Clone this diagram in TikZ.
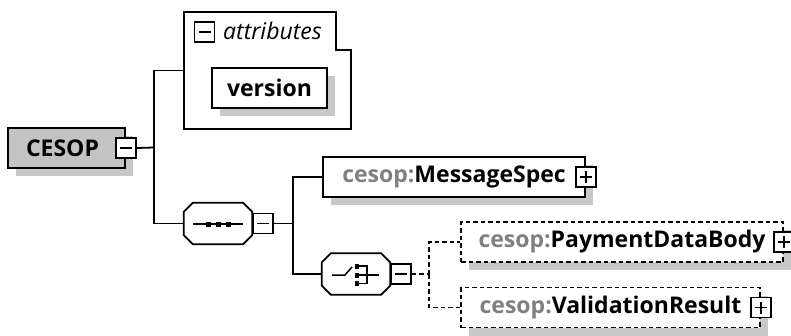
\documentclass[tikz,border=0pt]{standalone}
\usepackage{fontspec}
\setmainfont{Open Sans}
\usetikzlibrary{shadows}

\definecolor{boxgrey}{RGB}{195,195,195}
\definecolor{shadowgrey}{RGB}{200,200,200}
\definecolor{prefixgrey}{RGB}{128,128,128}

\tikzset{
  every picture/.append style={x=1pt,y=-1pt},
  shade/.style={general shadow={fill=shadowgrey,shadow xshift=8pt,shadow yshift=-8pt}},
  elem/.style={draw,line width=1.8pt,fill=white,minimum height=40pt,inner sep=0pt,
    font=\fontsize{23}{27}\selectfont\bfseries,shade},
  optelem/.style={elem,line width=1.5pt,dash pattern=on 4.5pt off 3pt},
  octo/.style={minimum width=68pt,minimum height=41pt,inner sep=0pt},
  toggle/.style={draw,line width=1.5pt,fill=white,minimum size=20pt,inner sep=0pt},
  minusbox/.style={toggle,path picture={
    \draw[line width=1.5pt] ([xshift=4pt]path picture bounding box.west)
      -- ([xshift=-4pt]path picture bounding box.east);}},
  plusbox/.style={toggle,path picture={
    \draw[line width=1.5pt] ([xshift=4pt]path picture bounding box.west)
      -- ([xshift=-4pt]path picture bounding box.east);
    \draw[line width=1.5pt] ([yshift=-4pt]path picture bounding box.north)
      -- ([yshift=4pt]path picture bounding box.south);}},
  link/.style={line width=1.8pt},
  optlink/.style={line width=1.5pt,dash pattern=on 4.5pt off 3pt}
}

\newcommand{\pfx}[1]{{\color{prefixgrey}#1:}}
\newcommand{\octpath}[1]{([xshift=9pt]#1.north west) -- ([xshift=-9pt]#1.north east)
  -- ([yshift=-9pt]#1.north east) -- ([yshift=9pt]#1.south east)
  -- ([xshift=-9pt]#1.south east) -- ([xshift=9pt]#1.south west)
  -- ([yshift=9pt]#1.south west) -- ([yshift=-9pt]#1.north west) -- cycle}
\newcommand{\octagon}[1]{%
  \fill[shadowgrey,shift={(8,8)}] \octpath{#1};
  \draw[fill=white,line width=1.8pt] \octpath{#1};}

\begin{document}
\begin{tikzpicture}
  \useasboundingbox (0,0) rectangle (791,335);

  \node[elem,fill=boxgrey,minimum width=117pt] (cesop) at (66.5,148) {\hspace*{-8pt}CESOP};
  \node[minusbox] (cesopx) at (cesop.east) {};

  \node[minimum width=167pt,minimum height=117pt,inner sep=0pt] (attrs) at (267.5,70.5) {};
  \draw[line width=1.8pt] (attrs.south west) |- ([xshift=-15pt]attrs.north east)
    |- ([yshift=-38pt]attrs.north east) -- (attrs.south east) -- cycle;
  \node[minusbox] (attrsx) at (204.5,32) {};
  \node[anchor=west,inner sep=0pt,font=\fontsize{23}{27}\selectfont\itshape] (attrlabel)
    at (223,31) {attributes};
  \node[elem,minimum width=115pt] (version) at (269.5,88) {version};

  \node[octo] (seq) at (218,223.5) {};
  \octagon{seq}
  \node[minusbox,anchor=west] (seqx) at (seq.east) {};
  \begin{scope}[shift={(seq.center)}]
    \draw[line width=1.5pt] (-25,0.5) -- (25,0.5);
    \foreach \x in {-10,0,10}
      \fill (\x-2.5,-2) rectangle (\x+2.5,3);
  \end{scope}

  \node[elem,minimum width=262pt] (msgspec) at (454,177) {\pfx{cesop}MessageSpec};
  \node[plusbox] (msgspecx) at (msgspec.east) {};

  \node[octo] (choice) at (356,274) {};
  \octagon{choice}
  \node[minusbox,anchor=west] (choicex) at (choice.east) {};
  \begin{scope}[shift={(choice.center)}]
    \draw[line width=1.5pt] (-24,1) -- (-11,1) -- (-4,-7);
    \foreach \y in {-8,1,9.5}
      \fill (-1.5,\y-2.5) rectangle (3,\y+2.5);
    \draw[line width=1.5pt] (3,-8) -- (11,-8) -- (11,9.5) -- (3,9.5);
    \draw[line width=1.5pt] (3,1) -- (23,1);
  \end{scope}

  \node[optelem,minimum width=322pt] (paybody) at (622,242) {\pfx{cesop}PaymentDataBody};
  \node[plusbox] (paybodyx) at (paybody.east) {};

  \node[optelem,minimum width=299pt] (vresult) at (610.5,307.5) {\pfx{cesop}ValidationResult};
  \node[plusbox] (vresultx) at (vresult.east) {};

  \coordinate (fork1) at (154,147.5);
  \draw[link] (cesopx.east) -- (fork1);
  \draw[link] (fork1) |- (attrs.west);
  \draw[link] (fork1) |- (seq.west);

  \coordinate (fork2) at (293,223.5);
  \draw[link] (seqx.east) -- (fork2);
  \draw[link] (fork2) |- (msgspec.west);
  \draw[link] (fork2) |- (choice.west);

  \coordinate (fork3) at (429,274);
  \draw[optlink] (choicex.east) -- (fork3);
  \draw[optlink] (fork3) |- (paybody.west);
  \draw[optlink] (fork3) |- (vresult.west);
\end{tikzpicture}
\end{document}
